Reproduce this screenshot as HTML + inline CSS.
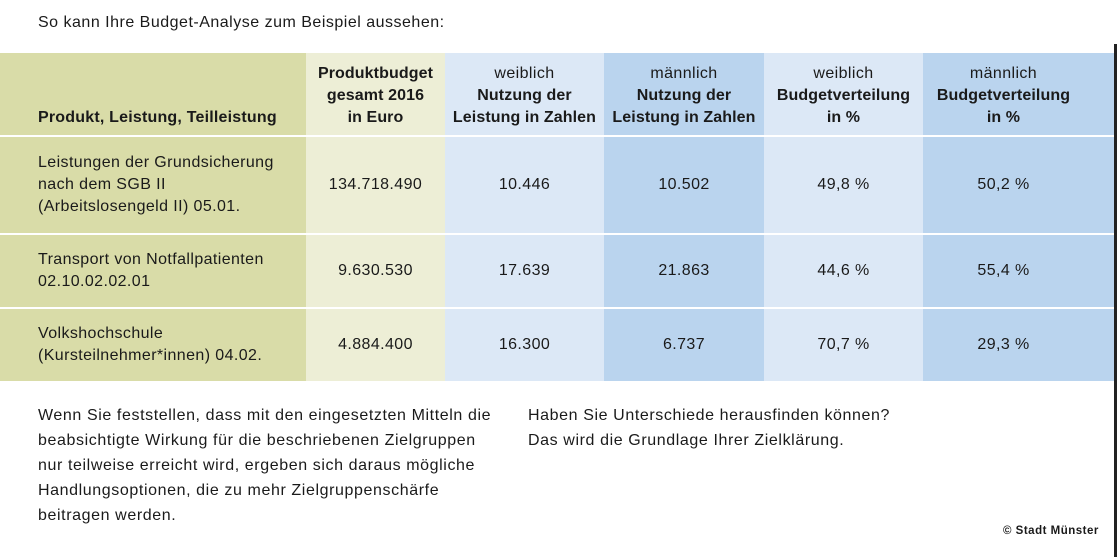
<!DOCTYPE html>
<html><head><meta charset="utf-8"><style>
body{margin:0;width:1119px;height:557px;background:#fff;position:relative;overflow:hidden;font-family:"Liberation Sans",sans-serif;color:#1a1a1a;}
.t{position:absolute;font-size:16px;line-height:22px;letter-spacing:0.5px;white-space:nowrap;}
.c{position:absolute;display:flex;align-items:center;justify-content:center;text-align:center;font-size:16px;line-height:22px;letter-spacing:0.4px;white-space:nowrap;}
.l{justify-content:flex-start;text-align:left;padding-left:38px;box-sizing:border-box;}
.b{font-weight:bold;}
.c b{letter-spacing:0.1px;}
.h{align-items:flex-end;padding-bottom:6px;box-sizing:border-box;}
</style></head><body>
<div class="t" style="left:38px;top:12px;">So kann Ihre Budget-Analyse zum Beispiel aussehen:</div>
<div style="position:absolute;left:1114px;top:44px;width:3px;height:513px;background:#222;"></div>

<div class="c l h b" style="left:0;top:53px;width:306px;height:82px;background:#d9dca8;letter-spacing:0.2px;">Produkt, Leistung, Teilleistung</div>
<div class="c h" style="left:306px;top:53px;width:139px;height:82px;background:#edeed6;"><b>Produktbudget<br>gesamt 2016<br>in Euro</b></div>
<div class="c h" style="left:445px;top:53px;width:159px;height:82px;background:#dce8f6;"><span>weiblich<br><b>Nutzung der<br>Leistung in Zahlen</b></span></div>
<div class="c h" style="left:604px;top:53px;width:160px;height:82px;background:#bad4ee;"><span>männlich<br><b>Nutzung der<br>Leistung in Zahlen</b></span></div>
<div class="c h" style="left:764px;top:53px;width:159px;height:82px;background:#dce8f6;"><span>weiblich<br><b>Budgetverteilung<br>in %</b></span></div>
<div class="c h" style="left:923px;top:53px;width:191px;height:82px;background:#bad4ee;"><span style="margin-right:30px">männlich<br><b>Budgetverteilung<br>in %</b></span></div>

<div class="c l" style="left:0;top:137px;width:306px;height:96px;background:#d9dca8;">Leistungen der Grundsicherung<br>nach dem SGB II<br>(Arbeitslosengeld II) 05.01.</div>
<div class="c" style="left:306px;top:137px;width:139px;height:96px;background:#edeed6;">134.718.490</div>
<div class="c" style="left:445px;top:137px;width:159px;height:96px;background:#dce8f6;">10.446</div>
<div class="c" style="left:604px;top:137px;width:160px;height:96px;background:#bad4ee;">10.502</div>
<div class="c" style="left:764px;top:137px;width:159px;height:96px;background:#dce8f6;">49,8 %</div>
<div class="c" style="left:923px;top:137px;width:191px;height:96px;background:#bad4ee;"><span style="margin-right:30px">50,2 %</span></div>

<div class="c l" style="left:0;top:235px;width:306px;height:72px;background:#d9dca8;">Transport von Notfallpatienten<br>02.10.02.02.01</div>
<div class="c" style="left:306px;top:235px;width:139px;height:72px;background:#edeed6;">9.630.530</div>
<div class="c" style="left:445px;top:235px;width:159px;height:72px;background:#dce8f6;">17.639</div>
<div class="c" style="left:604px;top:235px;width:160px;height:72px;background:#bad4ee;">21.863</div>
<div class="c" style="left:764px;top:235px;width:159px;height:72px;background:#dce8f6;">44,6 %</div>
<div class="c" style="left:923px;top:235px;width:191px;height:72px;background:#bad4ee;"><span style="margin-right:30px">55,4 %</span></div>

<div class="c l" style="left:0;top:309px;width:306px;height:72px;background:#d9dca8;">Volkshochschule<br>(Kursteilnehmer*innen) 04.02.</div>
<div class="c" style="left:306px;top:309px;width:139px;height:72px;background:#edeed6;">4.884.400</div>
<div class="c" style="left:445px;top:309px;width:159px;height:72px;background:#dce8f6;">16.300</div>
<div class="c" style="left:604px;top:309px;width:160px;height:72px;background:#bad4ee;">6.737</div>
<div class="c" style="left:764px;top:309px;width:159px;height:72px;background:#dce8f6;">70,7 %</div>
<div class="c" style="left:923px;top:309px;width:191px;height:72px;background:#bad4ee;"><span style="margin-right:30px">29,3 %</span></div>

<div class="t" style="left:38px;top:403px;line-height:25px;letter-spacing:0.6px;">Wenn Sie feststellen, dass mit den eingesetzten Mitteln die<br>beabsichtigte Wirkung für die beschriebenen Zielgruppen<br>nur teilweise erreicht wird, ergeben sich daraus mögliche<br>Handlungsoptionen, die zu mehr Zielgruppenschärfe<br>beitragen werden.</div>
<div class="t" style="left:528px;top:403px;line-height:25px;letter-spacing:0.6px;">Haben Sie Unterschiede herausfinden können?<br>Das wird die Grundlage Ihrer Zielklärung.</div>
<div class="t b" style="left:1003px;top:520px;font-size:11.5px;letter-spacing:0.5px;">© Stadt Münster</div>
</body></html>
